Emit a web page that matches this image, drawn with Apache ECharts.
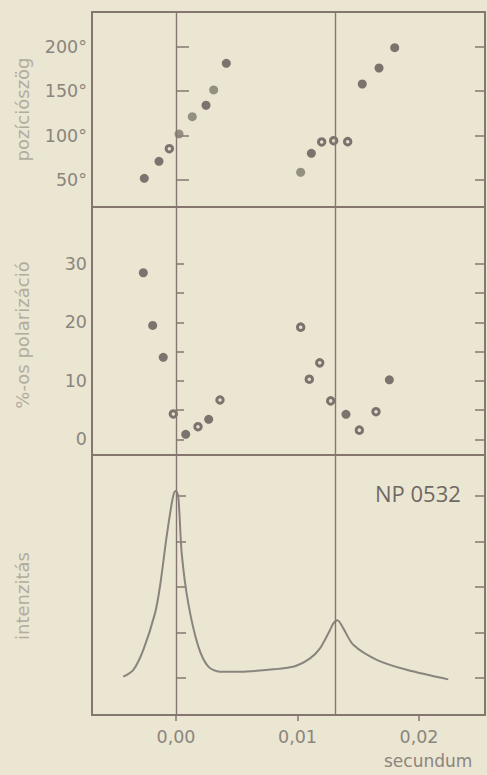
<!DOCTYPE html>
<html>
<head>
<meta charset="utf-8">
<script src="https://cdn.jsdelivr.net/npm/echarts@6/dist/echarts.min.js"></script>
<style>
html,body{margin:0;padding:0;background:#ebe6d2;}
#c{width:487px;height:775px;}
</style>
</head>
<body>
<div id="c"></div>
<script>
// ---- data (time in seconds) ----
const xTickValues = [0, 0.01, 0.02];
const pulseLines = [0, 0.0131];

// position angle (degrees)
const posAngleTicks = [50, 100, 150, 200];
const posTimeFilled = [-0.00261, -0.0014, 0.00247, 0.00414, 0.01114, 0.01533, 0.01671, 0.018];
const posAngleFilled = [51.9, 71, 134.1, 181.3, 80, 158, 176, 198.9];
const posTimeOpen = [-0.00055, 0.01199, 0.01298, 0.01413];
const posAngleOpen = [85.2, 92.8, 94.2, 93.1];
const posTimeFaint = [0.00025, 0.00134, 0.0031, 0.01026];
const posAngleFaint = [101.8, 121.2, 151.3, 58.7];

// polarization percent
const polTicks = [0, 5, 10, 15, 20, 25, 30];
const polLabels = [0, 10, 20, 30];
const polTimeFilled = [-0.00269, -0.00192, -0.00105, 0.0008, 0.00269, 0.01399, 0.01756];
const polFilled = [28.5, 19.5, 14.05, 0.89, 3.45, 4.3, 10.2];
const polTimeOpen = [-0.00022, 0.00181, 0.00362, 0.01026, 0.01097, 0.01183, 0.01273, 0.01509, 0.01646];
const polOpen = [4.36, 2.19, 6.75, 19.2, 10.3, 13.1, 6.6, 1.6, 4.75];

// intensity (arbitrary units)
const intTicks = [1, 2, 3, 4, 5];
const intTime = [-0.00434, -0.00351, -0.00269, -0.00173, -0.00132, -0.00077, -0.00035, -0.00016, -0.00002, 0.00019, 0.00047, 0.00101, 0.00184, 0.00266, 0.00362, 0.00527, 0.00801, 0.00979, 0.01103, 0.01185, 0.01267, 0.01295, 0.01328, 0.01377, 0.01459, 0.01652, 0.01899, 0.02241];
const intValue = [1.03, 1.18, 1.62, 2.42, 3.01, 4.11, 4.84, 5.07, 5.11, 4.98, 3.74, 2.64, 1.69, 1.25, 1.14, 1.14, 1.19, 1.26, 1.43, 1.65, 2.05, 2.20, 2.27, 2.09, 1.73, 1.40, 1.18, 0.97];

// ---- build ----
const zip = (a, b) => a.map((v, i) => [v, b[i]]);
const FRAME = '#85776f';
const LABEL = '#8a857d';
const TITLE = '#b2ac9f';
const DOT = '#5f5755';
const FONT = 'DejaVu Sans';
const X_MIN = -0.006914, X_MAX = 0.025432;

const grids = [
  {left: 92, top: 12, width: 393, height: 195},
  {left: 92, top: 207, width: 393, height: 248},
  {left: 92, top: 455, width: 393, height: 260}
].map(g => Object.assign(g, {show: true, borderColor: FRAME, borderWidth: 2, backgroundColor: 'transparent'}));

const xAxes = [0, 1, 2].map(i => ({
  type: 'value', gridIndex: i, min: X_MIN, max: X_MAX,
  axisLine: {show: false}, splitLine: {show: false},
  axisTick: {show: i === 2, customValues: xTickValues, inside: false, length: 6, lineStyle: {color: FRAME, width: 1.5}},
  axisLabel: {show: i === 2, customValues: xTickValues, margin: 13, fontSize: 17.5, color: LABEL, fontFamily: FONT,
    formatter: v => v.toFixed(2).replace('.', ',')}
}));

function leftAxis(grid, min, max, ticks, labels, fmt, name, tickLen, nameGap, shift) {
  return {
    type: 'value', gridIndex: grid, position: 'left', min, max,
    axisLine: {show: false}, splitLine: {show: false},
    axisTick: {show: true, inside: true, length: tickLen, customValues: ticks, lineStyle: {color: FRAME, width: 1.5}},
    axisLabel: {show: labels.length > 0, customValues: labels, margin: 5, fontSize: 17.5, color: LABEL, fontFamily: FONT, formatter: fmt},
    name, nameLocation: 'middle', nameRotate: 90, nameGap,
    nameTextStyle: {color: TITLE, fontSize: 18, fontFamily: FONT, padding: [0, shift, 0, 0]}
  };
}
function rightAxis(grid, min, max, ticks) {
  return {
    type: 'value', gridIndex: grid, position: 'right', min, max,
    axisLine: {show: false}, splitLine: {show: false},
    axisTick: {show: true, inside: true, length: 10, customValues: ticks, lineStyle: {color: FRAME, width: 1.5}},
    axisLabel: {show: false}
  };
}

const yAxes = [
  leftAxis(0, 19.6, 239, posAngleTicks, posAngleTicks, v => v + '°', 'pozíciószög', 13, 61, 0),
  rightAxis(0, 19.6, 239, posAngleTicks),
  leftAxis(1, -2.65, 39.74, polTicks, polLabels, v => String(v), '%-os polarizáció', 8, 61, 8),
  rightAxis(1, -2.65, 39.74, polTicks),
  leftAxis(2, 0.187, 5.9, intTicks, [], v => '', 'intenzitás', 10, 61, 22),
  rightAxis(2, 0.187, 5.9, intTicks)
];

const vLines = {
  silent: true, symbol: 'none', label: {show: false}, precision: 6,
  lineStyle: {color: FRAME, width: 1.4, type: 'solid'},
  data: pulseLines.map(x => ({xAxis: x}))
};

const filledStyle = {color: DOT};
const openStyle = {color: '#e4dfcc', borderColor: DOT, borderWidth: 3};
const faintStyle = {color: '#8a8578', opacity: 0.9};

const series = [
  {type: 'scatter', xAxisIndex: 0, yAxisIndex: 0, symbolSize: 9, itemStyle: filledStyle, data: zip(posTimeFilled, posAngleFilled), markLine: vLines},
  {type: 'scatter', xAxisIndex: 0, yAxisIndex: 0, symbolSize: 6.5, itemStyle: openStyle, data: zip(posTimeOpen, posAngleOpen)},
  {type: 'scatter', xAxisIndex: 0, yAxisIndex: 0, symbolSize: 9, itemStyle: faintStyle, data: zip(posTimeFaint, posAngleFaint)},
  {type: 'scatter', xAxisIndex: 1, yAxisIndex: 2, symbolSize: 9, itemStyle: filledStyle, data: zip(polTimeFilled, polFilled), markLine: vLines},
  {type: 'scatter', xAxisIndex: 1, yAxisIndex: 2, symbolSize: 6.5, itemStyle: openStyle, data: zip(polTimeOpen, polOpen)},
  {type: 'line', xAxisIndex: 2, yAxisIndex: 4, smooth: 0.3, symbol: 'none', lineStyle: {color: '#8a847e', width: 2},
    data: zip(intTime, intValue), markLine: vLines}
];

const chart = echarts.init(document.getElementById('c'), null, {renderer: 'svg'});
chart.setOption({
  backgroundColor: '#ebe6d2',
  animation: false,
  textStyle: {fontFamily: FONT},
  grid: grids,
  xAxis: xAxes,
  yAxis: yAxes,
  series,
  graphic: [
    {type: 'text', left: 375, top: 482, style: {text: 'NP 0532', fontSize: 22, fill: '#6e6864', fontFamily: 'Open Sans'}},
    {type: 'text', left: 384, top: 752, style: {text: 'secundum', fontSize: 17, fill: LABEL, fontFamily: FONT}}
  ]
});
</script>
</body>
</html>
